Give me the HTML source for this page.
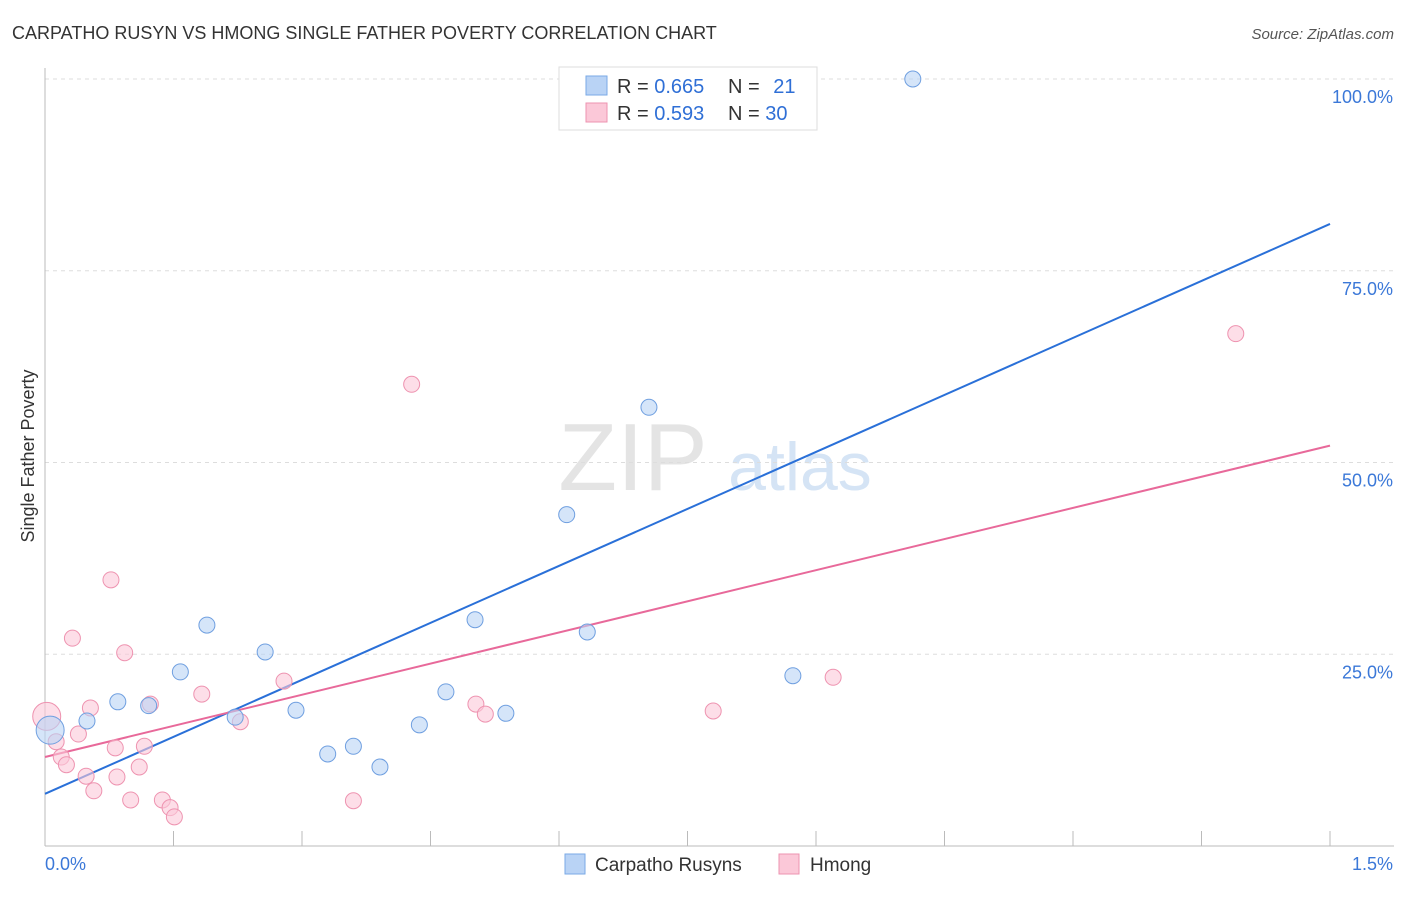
<!DOCTYPE html>
<html><head><meta charset="utf-8"><style>
body{margin:0;background:#fff;font-family:"Liberation Sans",sans-serif;}
svg text{font-family:"Liberation Sans",sans-serif;}
</style></head><body>
<svg id="chart" width="1406" height="892" xmlns="http://www.w3.org/2000/svg">
<text x="12" y="39" font-size="18" fill="#333">CARPATHO RUSYN VS HMONG SINGLE FATHER POVERTY CORRELATION CHART</text>
<text x="1394" y="39" font-size="15" fill="#555" text-anchor="end" font-style="italic">Source: ZipAtlas.com</text>
<text x="633" y="490" font-size="96" fill="#e4e4e4" font-family="Liberation Serif" text-anchor="middle">ZIP</text>
<text x="800" y="490" font-size="68" fill="#d5e4f5" text-anchor="middle">atlas</text>
<text transform="translate(34,456) rotate(-90)" font-size="18" fill="#333" text-anchor="middle">Single Father Poverty</text>
<g id="grid"></g><g id="axes"></g><g id="lines"></g><g id="pts"></g>
<g>
<rect x="559" y="67" width="258" height="63" fill="#fff" stroke="#ddd"/>
<rect x="586" y="76" width="21" height="19" fill="#b9d3f5" stroke="#7aa9e6"/>
<rect x="586" y="103" width="21" height="19" fill="#fbc8d8" stroke="#ee93b0"/>
<text x="617" y="93" font-size="20" fill="#333">R = <tspan fill="#2f6fd6">0.665</tspan></text>
<text x="728" y="93" font-size="20" fill="#333">N = <tspan fill="#2f6fd6" dx="8">21</tspan></text>
<text x="617" y="120" font-size="20" fill="#333">R = <tspan fill="#2f6fd6">0.593</tspan></text>
<text x="728" y="120" font-size="20" fill="#333">N = <tspan fill="#2f6fd6">30</tspan></text>
</g>
<g>
<rect x="565" y="854" width="20" height="20" fill="#b9d3f5" stroke="#7aa9e6"/>
<text x="595" y="871" font-size="19" fill="#333">Carpatho Rusyns</text>
<rect x="779" y="854" width="20" height="20" fill="#fbc8d8" stroke="#ee93b0"/>
<text x="810" y="871" font-size="19" fill="#333">Hmong</text>
</g>
</svg>
<script>
const blueX=[0.006,0.049,0.085,0.121,0.158,0.189,0.222,0.257,0.293,0.330,0.360,0.391,0.437,0.468,0.502,0.538,0.609,0.633,0.705,0.873,1.013];
const blueY=[15.1,16.3,18.8,18.3,22.7,28.8,16.8,25.3,17.7,12.0,13.0,10.3,15.8,20.1,29.5,17.3,43.2,27.9,57.2,22.2,100.0];
const pinkX=[0.002,0.013,0.019,0.025,0.032,0.039,0.048,0.053,0.057,0.077,0.082,0.084,0.093,0.100,0.110,0.116,0.123,0.137,0.146,0.151,0.183,0.228,0.279,0.360,0.428,0.503,0.514,0.780,0.920,1.390];
const pinkY=[16.9,13.6,11.6,10.6,27.1,14.6,9.1,18.0,7.2,34.7,12.8,9.0,25.2,6.0,10.3,13.0,18.5,6.0,5.0,3.8,19.8,16.2,21.5,5.9,60.2,18.5,17.2,17.6,22.0,66.8];
const blueTrend=[6.8,81.1];
const pinkTrend=[11.6,52.2];
const yTicks=[25,50,75,100];
const yTickLabels=["25.0%","50.0%","75.0%","100.0%"];
const xTickCount=10;
const xMax=1.5;
const NS="http://www.w3.org/2000/svg";
const X=v=>45+v/xMax*1285;
const Y=v=>846-v*7.67;
function mk(tag,attrs,parent){const e=document.createElementNS(NS,tag);for(const k in attrs)e.setAttribute(k,attrs[k]);document.getElementById(parent).appendChild(e);return e;}
yTicks.forEach((t,i)=>{
 const l=mk('line',{x1:45,x2:1394,y1:Y(t),y2:Y(t),stroke:'#ddd','stroke-dasharray':'4,4'},'grid');
 
 
 const tx=mk('text',{x:1393,y:Y(t)+24,'font-size':18,fill:'#3b78d8','text-anchor':'end'},'grid');
 tx.textContent=yTickLabels[i];
 
 
});
const ax=mk('line',{x1:45,x2:45,y1:68,y2:846,stroke:'#bbb'},'axes');


const bx=mk('line',{x1:45,x2:1394,y1:846,y2:846,stroke:'#bbb'},'axes');


for(let i=1;i<=xTickCount;i++){
 const t=mk('line',{x1:X(i*xMax/xTickCount),x2:X(i*xMax/xTickCount),y1:831,y2:846,stroke:'#bbb'},'axes');
 
 
}
const l0=mk('text',{x:45,y:870,'font-size':18,fill:'#3b78d8'},'axes');l0.textContent='0.0%';


const l1=mk('text',{x:1393,y:870,'font-size':18,fill:'#3b78d8','text-anchor':'end'},'axes');l1.textContent='1.5%';


function pts(xs,ys,fill,stroke,name){xs.forEach((x,i)=>{
 const r=(i===0)?14:8;
 const c=mk('circle',{cx:X(x),cy:Y(ys[i]),r:r,fill:fill,stroke:stroke,'stroke-width':1,'fill-opacity':0.6},'pts');
 
 
});}
pts(pinkX,pinkY,'#fbc8d8','#ee93b0','hmong-point');
pts(blueX,blueY,'#b9d3f5','#6f9fe0','carpatho-rusyn-point');
const tb=mk('line',{x1:X(0),y1:Y(blueTrend[0]),x2:X(xMax),y2:Y(blueTrend[1]),stroke:'#2a70d8','stroke-width':2},'lines');


const tp=mk('line',{x1:X(0),y1:Y(pinkTrend[0]),x2:X(xMax),y2:Y(pinkTrend[1]),stroke:'#e8699a','stroke-width':2},'lines');


</script>
</body></html>
